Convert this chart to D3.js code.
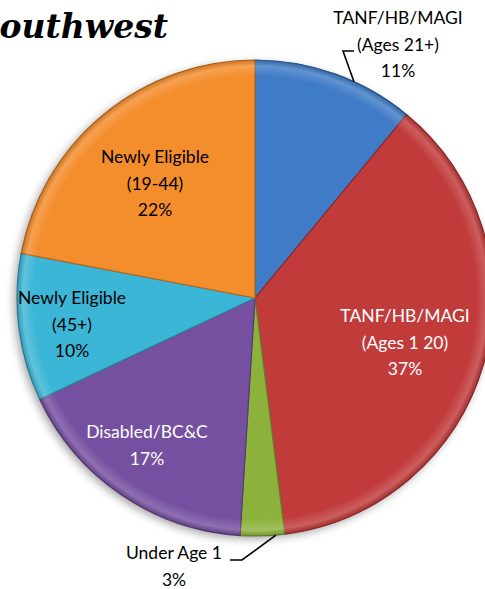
<!DOCTYPE html>
<html lang="en">
<head>
<meta charset="UTF-8">
<title>Southwest</title>
<style>
  body { margin: 0; background: #fff; }
  svg { display: block; }
</style>
</head>
<body>
<svg id="chart"></svg>
<script src="https://cdn.jsdelivr.net/npm/d3@7"></script>
<script>
const categories = ['TANF/HB/MAGI (Ages 21+)', 'TANF/HB/MAGI (Ages 1 20)', 'Under Age 1',
  'Disabled/BC&C', 'Newly Eligible (45+)', 'Newly Eligible (19-44)'];
const values = [11, 37, 3, 17, 10, 22];
const labelLines = [
  ['TANF/HB/MAGI', '(Ages 21+)', '11%'],
  ['TANF/HB/MAGI', '(Ages 1 20)', '37%'],
  ['Under Age 1', '3%'],
  ['Disabled/BC&C', '17%'],
  ['Newly Eligible', '(45+)', '10%'],
  ['Newly Eligible', '(19-44)', '22%']
];
const colors = ['#3f7bc6', '#c13b3b', '#8cb23c', '#7650a0', '#3cb6d6', '#f48d2c'];

const width = 485, height = 589;
const cx = 255, cy = 298, r = 238;

const svg = d3.select('#chart').attr('width', width).attr('height', height);
const defs = svg.append('defs');

// soft shadow under the pie
const shadow = defs.append('filter').attr('id', 'shadow')
  .attr('x', '-10%').attr('y', '-10%').attr('width', '120%').attr('height', '120%');
shadow.append('feDropShadow').attr('dx', -3).attr('dy', 3).attr('stdDeviation', 4)
  .attr('flood-color', '#000').attr('flood-opacity', 0.35);

// bevel sheen near the rim
const rim = defs.append('radialGradient').attr('id', 'rim')
  .attr('gradientUnits', 'userSpaceOnUse')
  .attr('cx', 0).attr('cy', 0).attr('r', r);
rim.append('stop').attr('offset', '0.93').attr('stop-color', '#fff').attr('stop-opacity', 0);
rim.append('stop').attr('offset', '0.975').attr('stop-color', '#fff').attr('stop-opacity', 0.18);
rim.append('stop').attr('offset', '1').attr('stop-color', '#000').attr('stop-opacity', 0.15);

const pie = d3.pie().sort(null).value(d => d)(values);
const arc = d3.arc().innerRadius(0).outerRadius(r);

const g = svg.append('g').attr('transform', `translate(${cx},${cy})`);

g.append('g').attr('filter', 'url(#shadow)')
  .selectAll('path').data(pie).join('path')
  .attr('d', arc)
  .attr('fill', (d, i) => colors[i]);

g.selectAll('path.slice').data(pie).join('path')
  .attr('class', 'slice')
  .attr('d', arc)
  .attr('fill', (d, i) => colors[i])
  .attr('stroke', (d, i) => d3.color(colors[i]).darker(0.9))
  .attr('stroke-width', 1.2)
  .attr('stroke-linejoin', 'round');

g.selectAll('path.rim').data(pie).join('path')
  .attr('class', 'rim')
  .attr('d', arc)
  .attr('fill', 'url(#rim)');

// label placement: [x, y of first line] relative to page, text colour
const labelPos = [
  [398, 24, '#000'],
  [405, 322, '#fff'],
  [174, 559, '#000'],
  [147, 438, '#fff'],
  [72, 304, '#000'],
  [155, 163, '#000']
];
const lineH = 26.5;

labelLines.forEach((lines, i) => {
  const t = svg.append('text')
    .attr('text-anchor', 'middle')
    .attr('font-family', 'Lato, "Open Sans", sans-serif')
    .attr('font-size', 17.5)
    .attr('fill', labelPos[i][2]);
  lines.forEach((s, j) => {
    t.append('tspan').attr('x', labelPos[i][0]).attr('y', labelPos[i][1] + j * lineH).text(s);
  });
});

// leader lines to the outside labels
function edgePoint(d, frac) {
  const a = d.startAngle + (d.endAngle - d.startAngle) * frac;
  return [cx + r * Math.sin(a), cy - r * Math.cos(a)];
}
const leaders = [
  { i: 0, frac: 0.62, elbow: [343, 51], end: [354, 51] },
  { i: 2, frac: 0.2, elbow: [242, 560], end: [230, 560] }
];
leaders.forEach(l => {
  const p = edgePoint(pie[l.i], l.frac);
  svg.append('path')
    .attr('d', d3.line()([p, l.elbow, l.end]))
    .attr('fill', 'none')
    .attr('stroke', '#000')
    .attr('stroke-width', 1.6);
});

// title, cut off at the left edge as in the source
svg.append('text')
  .attr('x', 168).attr('y', 38)
  .attr('text-anchor', 'end')
  .attr('font-family', '"DejaVu Serif", serif')
  .attr('font-weight', 'bold')
  .attr('font-style', 'italic')
  .attr('font-size', 33)
  .text('Southwest');
</script>
</body>
</html>
